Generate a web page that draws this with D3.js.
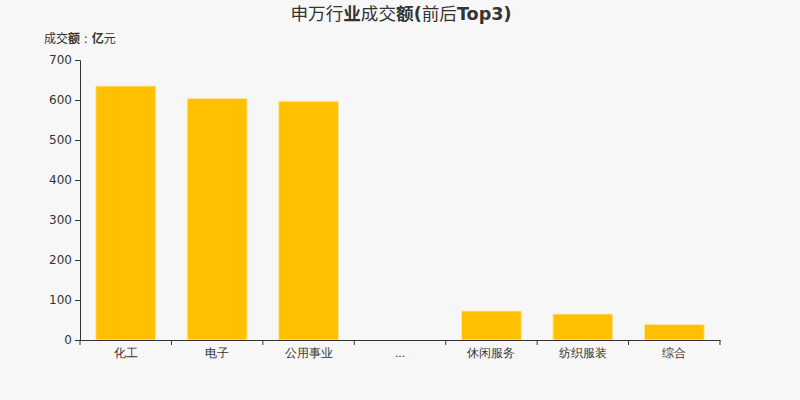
<!DOCTYPE html>
<html><head><meta charset="utf-8">
<script src="https://cdn.jsdelivr.net/npm/d3@7"></script>
<style>body{margin:0;background:#f7f7f7;} svg{display:block;font-family:"DejaVu Sans","Noto Sans CJK SC",sans-serif;}</style>
</head><body><svg id="c" width="800" height="400"></svg>
<script>
const categories = ["化工","电子","公用事业","...","休闲服务","纺织服装","综合"];
const values = [635, 604, 597, null, 72.5, 65, 39];
const yTicks = [0,100,200,300,400,500,600,700];

const svg = d3.select("#c");
svg.append("rect").attr("width",800).attr("height",400).attr("fill","#f7f7f7");
const m = {l:80, r:720, t:60, b:340};
const x = d3.scaleBand().domain(categories).range([m.l, m.r]).padding(0);
const y = d3.scaleLinear().domain([0,700]).range([m.b, m.t]);

// title
const t = svg.append("text").attr("x",401).attr("y",20).attr("text-anchor","middle")
  .attr("font-size",17.6).attr("fill","#333");
[["申万行",400],["业",700],["成交",400],["额(",700],["前后",400],["Top3)",700]].forEach(([s,w])=>{
  t.append("tspan").attr("font-weight",w).text(s);
});
const yl = svg.append("text").attr("x",44).attr("y",43).attr("font-size",12).attr("fill","#333");
[["成交",400],["额",700],[" : ",400],["亿",700],["元",400]].forEach(([s,w])=>{
  yl.append("tspan").attr("font-weight",w).text(s);
});

// bars
const bw = x.bandwidth()*0.655;
svg.append("g").selectAll("rect").data(categories.map((c,i)=>({c,v:values[i]})).filter(d=>d.v!=null))
  .join("rect")
  .attr("x",d=>x(d.c)+(x.bandwidth()-bw)/2)
  .attr("y",d=>y(d.v))
  .attr("width",bw)
  .attr("height",d=>y(0)-y(d.v))
  .attr("fill","#ffc000")
  .attr("stroke","#ffe9a8").attr("stroke-width",1);

// y axis
const ya = svg.append("g").attr("transform",`translate(${m.l},0)`)
  .call(d3.axisLeft(y).tickValues(yTicks).tickSize(5).tickPadding(3));
ya.selectAll("path,line").attr("stroke","#333");
ya.selectAll("text").attr("font-size",12).attr("fill","#333").attr("font-family","DejaVu Sans, sans-serif");

// x axis
const xa = svg.append("g").attr("transform",`translate(0,${m.b})`)
  .call(d3.axisBottom(x).tickSize(0).tickPadding(8).tickSizeOuter(0));
xa.select("path").attr("stroke","#333");
xa.selectAll("text").attr("font-size",12).attr("fill","#333");
const bounds = categories.map(c=>x(c)).concat([m.r]);
xa.selectAll("line.bd").data(bounds).join("line").attr("class","bd")
  .attr("x1",d=>d).attr("x2",d=>d).attr("y1",0).attr("y2",5).attr("stroke","#333");
</script></body></html>
